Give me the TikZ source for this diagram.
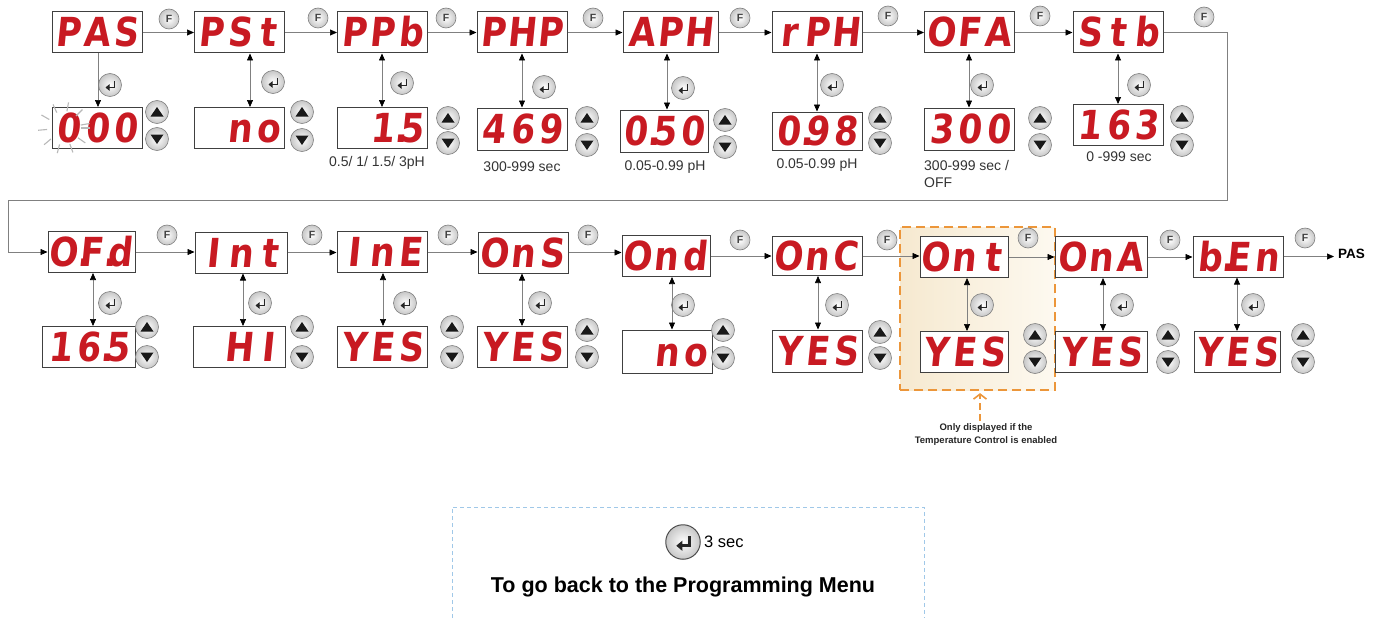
\documentclass[tikz,border=0pt]{standalone}
\usepackage{fontspec}
\setmainfont{Liberation Sans}
\newfontfamily\segfont{DejaVu Sans}[FakeSlant=0.1,FakeStretch=0.86]
\usetikzlibrary{arrows.meta,calc}
\definecolor{segred}{RGB}{200,26,34}
\definecolor{hlorange}{RGB}{236,150,58}
\definecolor{boxblue}{RGB}{160,200,232}
\definecolor{hlleft}{RGB}{246,233,208}
\definecolor{hlright}{RGB}{253,249,240}
\newcommand\segc[1]{\makebox[28.5pt]{#1}}
\newcommand\dsp[3]{\segc{#1}\segc{#2}\segc{#3}}
\newcommand\vconn[4][vc]{\draw[#1] ([xshift=#4pt]#2.south) -- ([xshift=#4pt]#2.south |- #3.north);}
\begin{document}
\begin{tikzpicture}[x=1pt,y=-1pt,
  disp/.style={draw=black!75, line width=1pt, fill=white, rectangle,
    minimum width=90pt, minimum height=41pt, inner sep=0pt,
    text height=29pt, text depth=0pt, text=segred,
    font=\segfont\bfseries\fontsize{40}{40}\selectfont},
  btn/.style={circle, draw=black!50, line width=0.6pt, inner color=white,
    outer color=black!22, inner sep=0pt},
  fbtn/.style={btn, minimum size=20pt, font=\bfseries\fontsize{10.5}{10.5}\selectfont, text=black!75},
  entbtn/.style={btn, minimum size={#1*23pt},
    path picture={\draw[line width={#1*1.8pt}, black!85,
      -{Triangle[length={#1*4pt},width={#1*6.5pt}]}]
      ([shift={({#1*4.5pt},{#1*4pt})}]path picture bounding box.center)
      -- ++(0pt,{-#1*6.5pt}) -- ++({-#1*9pt},0pt);}},
  entbtn/.default=1,
  upbtn/.style={btn, minimum size=23pt,
    path picture={\fill[black!90]
      ([shift={(0pt,5pt)}]path picture bounding box.center) --
      ([shift={(-6.5pt,-4.5pt)}]path picture bounding box.center) --
      ([shift={(6.5pt,-4.5pt)}]path picture bounding box.center) -- cycle;}},
  dnbtn/.style={btn, minimum size=23pt,
    path picture={\fill[black!90]
      ([shift={(0pt,-5pt)}]path picture bounding box.center) --
      ([shift={(-6.5pt,4.5pt)}]path picture bounding box.center) --
      ([shift={(6.5pt,4.5pt)}]path picture bounding box.center) -- cycle;}},
  hc/.style={draw=black!50, line width=0.7pt, -{Triangle[length=7pt,width=6pt,color=black]}},
  vc/.style={draw=black!50, line width=0.7pt,
    {Triangle[length=7pt,width=6pt,color=black]}-{Triangle[length=7pt,width=6pt,color=black]}},
  vcone/.style={draw=black!50, line width=0.7pt, -{Triangle[length=7pt,width=6pt,color=black]}},
  captxt/.style={font=\fontsize{14}{17}\selectfont, text=black!80, inner sep=0pt}
]
\useasboundingbox (0,0) rectangle (1383,618);

% highlighted region
\node[draw=hlorange, line width=2.2pt, dash pattern=on 9pt off 5pt,
  left color=hlleft, right color=hlright, minimum width=155pt,
  minimum height=163pt, inner sep=0pt] (hl) at (977.5,308.5) {};

% top row displays
\node[disp] (t1) at (97,32.5) {\dsp{P}{A}{S}};
\node[disp] (t2) at (239.5,32.5) {\dsp{P}{S}{t}};
\node[disp] (t3) at (382.5,32.5) {\dsp{P}{P}{b}};
\node[disp] (t4) at (522,32.5) {\dsp{P}{H}{P}};
\node[disp, minimum width=95pt] (t5) at (670.5,32.5) {\dsp{A}{P}{H}};
\node[disp] (t6) at (817,32.5) {\dsp{r}{P}{H}};
\node[disp] (t7) at (969.5,32.5) {\dsp{O}{F}{A}};
\node[disp] (t8) at (1118,32.5) {\dsp{S}{t}{b}};

\node[disp] (v1) at (97,128) {\dsp{0}{0}{0}};
\node[disp] (v2) at (239.5,128) {\dsp{}{n}{o}};
\node[disp] (v3) at (382.5,128) {\dsp{}{1\rlap{.}}{5}};
\node[disp, minimum height=42pt] (v4) at (522,129) {\dsp{4}{6}{9}};
\node[disp, minimum width=88pt, minimum height=42pt] (v5) at (664,131) {\dsp{0\rlap{.}}{5}{0}};
\node[disp, minimum height=38pt] (v6) at (817,131) {\dsp{0\rlap{.}}{9}{8}};
\node[disp, minimum height=42pt] (v7) at (969.5,129) {\dsp{3}{0}{0}};
\node[disp] (v8) at (1118,125) {\dsp{1}{6}{3}};

% flashing digit
\coordinate (sb) at (64,128);
\foreach \a in {0,35,...,359}
  \draw[black!28, line width=1.1pt] (sb) ++(\a:17) -- ++(\a:9);

% bottom row displays
\node[disp, minimum width=87pt] (b1) at (91.5,252) {\dsp{O\rlap{.}}{F\rlap{.}}{d}};
\node[disp, minimum width=92pt] (b2) at (241,252.5) {\dsp{I}{n}{t}};
\node[disp] (b3) at (382,252) {\dsp{I}{n}{E}};
\node[disp] (b4) at (523,252.5) {\dsp{O}{n}{S}};
\node[disp, minimum width=88pt] (b5) at (666,256) {\dsp{O}{n}{d}};
\node[disp, minimum height=39pt] (b6) at (817,256) {\dsp{O}{n}{C}};
\node[disp, minimum width=88pt] (b7) at (964,257) {\dsp{O}{n}{t}};
\node[disp, minimum width=92pt] (b8) at (1101,257) {\dsp{O}{n}{A}};
\node[disp] (b9) at (1238,256.5) {\dsp{b\rlap{.}}{E}{n}};

\node[disp, minimum width=93pt] (w1) at (88.5,347) {\dsp{1}{6\rlap{.}}{5}};
\node[disp, minimum width=92pt] (w2) at (239,347) {\dsp{}{H}{I}};
\node[disp] (w3) at (382,347) {\dsp{Y}{E}{S}};
\node[disp] (w4) at (522.5,347) {\dsp{Y}{E}{S}};
\node[disp, minimum height=43pt] (w5) at (667,351.5) {\dsp{}{n}{o}};
\node[disp, minimum height=42pt] (w6) at (817,351) {\dsp{Y}{E}{S}};
\node[disp, minimum width=88pt] (w7) at (964,352) {\dsp{Y}{E}{S}};
\node[disp, minimum width=92pt] (w8) at (1101,352) {\dsp{Y}{E}{S}};
\node[disp, minimum width=86pt] (w9) at (1237,352) {\dsp{Y}{E}{S}};

% captions
\node[captxt] (c3) at (377,163) {0.5/ 1/ 1.5/ 3pH};
\node[captxt] (c4) at (522,167) {300-999 sec};
\node[captxt] (c5) at (665,167) {0.05-0.99 pH};
\node[captxt] (c6) at (817,165) {0.05-0.99 pH};
\node[captxt, anchor=west, align=left] (c7) at (924,173.5) {300-999 sec /\\OFF};
\node[captxt] (c8) at (1119,157) {0 -999 sec};

% buttons
\foreach \n/\x/\y in {f1/169/19, f2/318/18, f3/446/18, f4/593/18, f5/740/18,
  f6/888/16, f7/1040/16, f8/1204/17, f9/167/235, f10/312/235, f11/448/235,
  f12/588/235, f13/740/240, f14/887/240, f15/1028/238, f16/1170/240, f17/1305/238}
  \node[fbtn] (\n) at (\x,\y) {F};
\foreach \n/\x/\y in {e1/110/85, e2/273/82, e3/402/83, e4/544/87, e5/683/88,
  e6/832/85, e7/982/85, e8/1139/85, e9/110/303, e10/260/303, e11/405/303,
  e12/540/303, e13/683/305, e14/837/305, e15/982/305, e16/1122/305, e17/1253/305}
  \node[entbtn] (\n) at (\x,\y) {};
\foreach \n/\x/\y/\z in {1/157/112/139, 2/302/112/140, 3/448/118/143, 4/587/118/145,
  5/725/120/147, 6/880/118/143, 7/1040/118/145, 8/1182/117/145,
  9/147/327/357, 10/302/327/357, 11/452/327/357, 12/587/330/357, 13/723/330/358,
  14/880/332/358, 15/1035/335/362, 16/1168/335/362, 17/1303/335/362}
  {\node[upbtn] (u\n) at (\x,\y) {};
   \node[dnbtn] (d\n) at (\x,\z) {};}

% horizontal connectors
\foreach \a/\b in {t1/t2, t2/t3, t3/t4, t4/t5, t5/t6, t6/t7, t7/t8,
  b1/b2, b2/b3, b3/b4, b4/b5, b5/b6, b6/b7, b7/b8, b8/b9}
  \draw[hc] (\a.east) -- (\a.east -| \b.west);
\coordinate (k1) at (1227,200);
\coordinate (k2) at (8,200);
\draw[hc] (t8.east) -| (k1) -- (k2) |- (b1.west);
\node[font=\bfseries\fontsize{13.5}{15}\selectfont, anchor=west, inner sep=1pt] (pas) at (1337,254) {PAS};
\draw[hc, shorten >=3pt] (b9.east) -- (b9.east -| pas.west);

% vertical connectors
\vconn[vcone]{t1}{v1}{1}
\vconn{t2}{v2}{10.5}
\vconn{t3}{v3}{-0.5}
\vconn{t4}{v4}{0}
\vconn{t5}{v5}{-3.5}
\vconn{t6}{v6}{0}
\vconn{t7}{v7}{-0.5}
\vconn{t8}{v8}{0}
\vconn{b1}{w1}{1.5}
\vconn{b2}{w2}{2}
\vconn{b3}{w3}{1}
\vconn{b4}{w4}{-1}
\vconn{b5}{w5}{6}
\vconn{b6}{w6}{1}
\vconn{b7}{w7}{3}
\vconn{b8}{w8}{2}
\vconn{b9}{w9}{-1}

% note
\node[font=\bfseries\fontsize{9.5}{13}\selectfont, align=center, text=black!85] (note) at (986,435)
  {Only displayed if the\\Temperature Control is enabled};
\draw[hlorange, line width=1.6pt, dash pattern=on 7pt off 4pt,
  -{Straight Barb[length=5pt,width=13pt]}]
  ([xshift=-6pt]note.north) -- ([xshift=-6pt,yshift=-2pt]note.north |- hl.south);

% bottom legend box
\draw[boxblue, line width=0.8pt, dash pattern=on 4pt off 3pt]
  (452,618) -- (452,507) -- (924,507) -- (924,618);
\node[entbtn=1.5, draw=black!70, line width=1pt] (eb) at (683,542) {};
\node[anchor=west, font=\fontsize{16.5}{18}\selectfont, inner sep=0pt] (sec) at (704,542) {3 sec};
\node[font=\bfseries\fontsize{21.5}{24}\selectfont, inner sep=0pt] (back) at (683,587)
  {To go back to the Programming Menu};
\end{tikzpicture}
\end{document}
